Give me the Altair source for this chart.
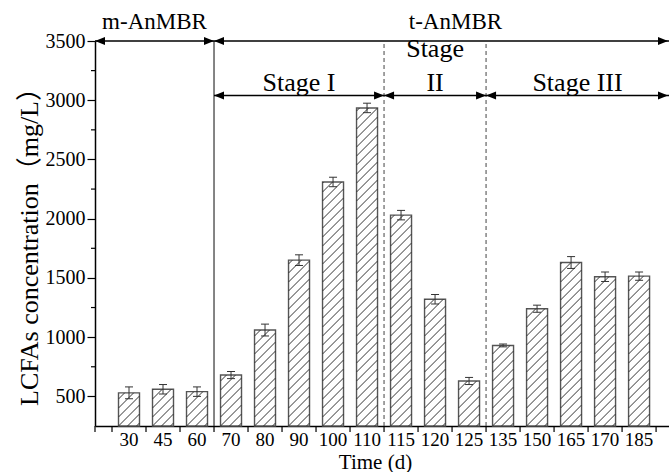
import altair as alt
import pandas as pd
import numpy as np

# ---------------- data ----------------
times = ["30", "45", "60", "70", "80", "90", "100", "110",
         "115", "120", "125", "135", "150", "165", "170", "185"]
lcfa = [530, 560, 540, 680, 1060, 1650, 2310, 2935,
        2030, 1320, 630, 930, 1240, 1630, 1510, 1515]
err = [50, 40, 40, 30, 50, 45, 40, 40,
       40, 40, 30, 12, 30, 50, 40, 35]

period_names = ["m-AnMBR", "t-AnMBR"]
period_last = ["60", None]          # last sampling day of each period
stage_names = ["Stage I", "Stage II", "Stage III"]
stage_last = ["110", "125", None]   # last sampling day of each stage
y_major = [500, 1000, 1500, 2000, 2500, 3000, 3500]
y_minor = [750, 1250, 1750, 2250, 2750, 3250]

# ---------------- layout constants ----------------
XMIN, XMAX = 0.0, 16.88
YMIN, YMAX = 250, 3500
STAGE_Y = 3040
W, H = 574, 385
kx = W / (XMAX - XMIN)
ky = H / (YMAX - YMIN)
BAR_PX = 21
HATCH_PX = 9
SERIF = "Liberation Serif, Noto Sans CJK SC"

idx = np.arange(1, len(times) + 1)
half = BAR_PX / 2 / kx
cap = 4 / kx

bars = pd.DataFrame({"t": times, "i": idx, "v": lcfa, "e": err})
bars["x0"] = bars["i"] - half
bars["x1"] = bars["i"] + half
bars["base"] = YMIN
bars["lo"] = bars["v"] - bars["e"]
bars["hi"] = bars["v"] + bars["e"]
bars["c0"] = bars["i"] - cap
bars["c1"] = bars["i"] + cap

# hatch segments "/" clipped to each bar (computed in pixel space, mapped back)
rows = []
for i, v in zip(idx, lcfa):
    hpx = (v - YMIN) * ky
    w = BAR_PX
    c = -w + 3
    while c < hpx:
        u0 = max(0.0, -c)
        u1 = min(w, hpx - c)
        if u1 > u0:
            rows.append({
                "x": i - half + u0 / kx, "y": YMIN + (u0 + c) / ky,
                "x2": i - half + u1 / kx, "y2": YMIN + (u1 + c) / ky})
        c += HATCH_PX
hatch = pd.DataFrame(rows)

def pos_after(day):
    return XMAX if day is None else times.index(day) + 1.5

# periods / stages
p_start = [XMIN] + [pos_after(d) for d in period_last[:-1]]
p_end = [pos_after(d) for d in period_last]
periods = pd.DataFrame({"name": period_names, "x0": p_start, "x1": p_end,
                        "y": YMAX})
periods["xm"] = [(a + b) / 2 for a, b in zip(p_start, p_end)]
periods.loc[1, "xm"] = 10.6

s_start = [p_end[0]] + [pos_after(d) for d in stage_last[:-1]]
s_end = [pos_after(d) for d in stage_last]
stages = pd.DataFrame({"name": stage_names, "x0": s_start, "x1": s_end,
                       "y": STAGE_Y})

# stage labels: narrow stage gets its name on two lines
LINE_PX = 34
trows = []
for n, a, b in zip(stage_names, s_start, s_end):
    parts = [n] if (b - a) > 4 else n.split(" ")
    for k, p in enumerate(parts):
        up = len(parts) - 1 - k
        trows.append({"label": p, "xm": (a + b) / 2,
                      "y": STAGE_Y + up * LINE_PX / ky})
stage_txt = pd.DataFrame(trows)

segs = pd.concat([periods[["x0", "x1", "y"]], stages[["x0", "x1", "y"]]],
                 ignore_index=True)
left_heads = segs.rename(columns={"x0": "x"})[["x", "y"]]
right_heads = segs.rename(columns={"x1": "x"})[["x", "y"]].copy()
right_heads["x"] = right_heads["x"].clip(upper=XMAX - 0.03)

vlines = pd.DataFrame({"x": [p_end[0]] + s_end[:-1],
                       "dash": [False] + [True] * (len(s_end) - 1),
                       "y0": YMIN, "y1": YMAX})

xticks = pd.DataFrame({"x": [0.0] + [k + 0.5 for k in range(len(times) + 1)]})
yminor = pd.DataFrame({"y": y_minor})

# ---------------- scales & axes ----------------
xs = alt.Scale(domain=[XMIN, XMAX], nice=False, zero=False)
ys = alt.Scale(domain=[YMIN, YMAX], nice=False, zero=False)

x_axis = alt.Axis(
    values=[int(k) for k in idx],
    labels=False, ticks=False,
    domainColor="black", domainWidth=1.5,
    grid=False,
    title="Time (d)", titleFont=SERIF, titleFontSize=21,
    titleFontWeight="normal", titleColor="black",
    titleBaseline="alphabetic", titleY=42, titleX=280)

y_axis = alt.Axis(
    values=y_major, format="d",
    tickSize=8, tickColor="black", tickWidth=1.2,
    domainColor="black", domainWidth=1.5,
    labelFont=SERIF, labelFontSize=20, labelColor="black", labelPadding=2,
    labelOverlap=False, grid=False,
    title="LCFAs concentration（mg/L）", titleFont=SERIF, titleFontSize=26,
    titleFontWeight="normal", titleColor="black",
    titleAngle=270, titleBaseline="alphabetic", titleAlign="center",
    titleX=-58, titleY=199)

# ---------------- layers ----------------
bar_layer = alt.Chart(bars).mark_bar(
    fill="white", stroke="#555", strokeWidth=1.4).encode(
    x=alt.X("x0:Q", scale=xs, axis=x_axis),
    x2="x1:Q",
    y=alt.Y("v:Q", scale=ys, axis=y_axis),
    y2="base:Q")

hatch_layer = alt.Chart(hatch).mark_rule(color="#333", strokeWidth=1).encode(
    x=alt.X("x:Q", scale=xs), x2="x2:Q",
    y=alt.Y("y:Q", scale=ys), y2="y2:Q")

err_layer = alt.Chart(bars).mark_rule(color="#333", strokeWidth=1).encode(
    x=alt.X("i:Q", scale=xs),
    y=alt.Y("lo:Q", scale=ys), y2="hi:Q")
cap_hi = alt.Chart(bars).mark_rule(color="#333", strokeWidth=1).encode(
    x=alt.X("c0:Q", scale=xs), x2="c1:Q",
    y=alt.Y("hi:Q", scale=ys))
cap_lo = alt.Chart(bars).mark_rule(color="#333", strokeWidth=1).encode(
    x=alt.X("c0:Q", scale=xs), x2="c1:Q",
    y=alt.Y("lo:Q", scale=ys))

vsolid = alt.Chart(vlines[~vlines["dash"]]).mark_rule(
    color="#333", strokeWidth=1.2).encode(
    x=alt.X("x:Q", scale=xs),
    y=alt.Y("y0:Q", scale=ys), y2="y1:Q")
vdash = alt.Chart(vlines[vlines["dash"]]).mark_rule(
    color="#444", strokeWidth=1, strokeDash=[4, 3]).encode(
    x=alt.X("x:Q", scale=xs),
    y=alt.Y("y0:Q", scale=ys), y2="y1:Q")

hlines = alt.Chart(segs).mark_rule(color="black", strokeWidth=1.5).encode(
    x=alt.X("x0:Q", scale=xs), x2="x1:Q",
    y=alt.Y("y:Q", scale=ys))

lh = alt.Chart(left_heads).mark_point(
    shape="M0,0L2,-0.8L2,0.8Z", size=100, filled=True, color="black",
    opacity=1, strokeWidth=0).encode(
    x=alt.X("x:Q", scale=xs), y=alt.Y("y:Q", scale=ys))
rh = alt.Chart(right_heads).mark_point(
    shape="M0,0L-2,-0.8L-2,0.8Z", size=100, filled=True, color="black",
    opacity=1, strokeWidth=0).encode(
    x=alt.X("x:Q", scale=xs), y=alt.Y("y:Q", scale=ys))

# x-axis tick marks between categories, y-axis minor ticks, x tick labels
xtick_layer = alt.Chart(xticks).mark_rule(color="black", strokeWidth=1.2).encode(
    x=alt.X("x:Q", scale=xs), y=alt.value(H), y2=alt.value(H + 6))
ytick_layer = alt.Chart(yminor).mark_rule(color="black", strokeWidth=1.2).encode(
    y=alt.Y("y:Q", scale=ys), x=alt.value(-4), x2=alt.value(0))
xlab_layer = alt.Chart(bars).mark_text(
    font=SERIF, fontSize=19, color="black", baseline="alphabetic",
    align="center").encode(
    x=alt.X("i:Q", scale=xs), y=alt.value(H + 20), text="t:N")

ptext = alt.Chart(periods).mark_text(
    font=SERIF, fontSize=23, color="black", baseline="alphabetic",
    align="center", dy=-12).encode(
    x=alt.X("xm:Q", scale=xs), y=alt.Y("y:Q", scale=ys),
    text="name:N")
stext = alt.Chart(stage_txt).mark_text(
    font=SERIF, fontSize=26, color="black", baseline="alphabetic",
    align="center", dy=-4).encode(
    x=alt.X("xm:Q", scale=xs), y=alt.Y("y:Q", scale=ys),
    text="label:N")

chart = alt.layer(
    bar_layer, hatch_layer, err_layer, cap_hi, cap_lo,
    vsolid, vdash, hlines, lh, rh, xtick_layer, ytick_layer, xlab_layer,
    ptext, stext
).properties(
    width=W, height=H,
    autosize=alt.AutoSizeParams(type="none"),
    padding={"left": 95, "top": 41, "right": 0, "bottom": 46},
    background="white"
).configure_view(stroke=None)

chart.save("out.html", embed_options={"renderer": "svg", "actions": False})
